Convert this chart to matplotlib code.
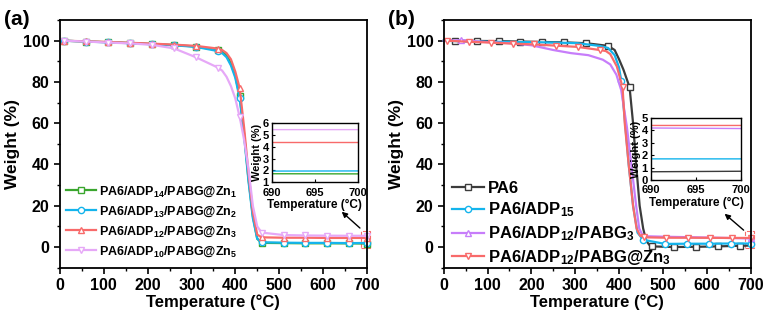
import numpy as np
import matplotlib
matplotlib.use('Agg')
import matplotlib.pyplot as plt
from matplotlib.patches import Rectangle
from matplotlib.ticker import MultipleLocator

plt.rcParams['font.family'] = ['Liberation Sans', 'DejaVu Sans']
plt.rcParams['font.weight'] = 'bold'
plt.rcParams['mathtext.fontset'] = 'custom'
plt.rcParams['mathtext.rm'] = 'Liberation Sans:bold'
plt.rcParams['mathtext.bf'] = 'Liberation Sans:bold'
plt.rcParams['mathtext.default'] = 'rm'

# ---- panel (a) data ----
T_a = [10, 60, 110, 160, 210, 260, 310, 360, 370, 380, 390, 400, 410, 420, 430, 440, 450, 460, 510, 560, 610, 660, 700]
zn1 = [100, 99.6, 99.3, 98.9, 98.4, 97.9, 97.2, 95.5, 94.8, 93, 89, 83, 73, 55, 33, 15, 4, 2.0, 1.9, 1.8, 1.8, 1.75, 1.7]
zn2 = [100, 99.6, 99.2, 98.8, 98.3, 97.8, 97.0, 95, 94, 92, 88, 82, 72, 54, 32, 14, 4, 2.3, 2.1, 2.0, 2.0, 1.9, 1.95]
zn3 = [100, 99.7, 99.4, 99.0, 98.6, 98.1, 97.5, 96.2, 95.5, 94, 91, 85, 77, 58, 36, 17, 6, 4.7, 4.5, 4.5, 4.4, 4.4, 4.4]
zn5 = [100, 99.6, 99.1, 98.7, 98, 96.3, 92, 87, 85.5, 82.5, 78, 72, 63, 52, 38, 20, 10, 7, 5.8, 5.6, 5.5, 5.45, 5.45]
marks_a = [10, 60, 110, 160, 210, 260, 310, 360, 410, 460, 510, 560, 610, 660, 700]
labels_a = ['PA6/ADP$_{14}$/PABG@Zn$_{1}$', 'PA6/ADP$_{13}$/PABG@Zn$_{2}$',
            'PA6/ADP$_{12}$/PABG@Zn$_{3}$', 'PA6/ADP$_{10}$/PABG@Zn$_{5}$']

# ---- panel (b) data ----
T_pa6 = [0, 25, 75, 125, 175, 225, 275, 325, 375, 390, 400, 410, 424, 432, 439, 447, 455, 462, 470, 475, 525, 575, 625, 675, 700]
pa6 = [100, 100, 99.9, 99.8, 99.6, 99.4, 99.2, 98.8, 97.5, 95.5, 91, 86, 77.5, 60, 40, 20, 9, 3, 0.8, 0.3, 0, 0.1, 0.3, 0.6, 0.7]
T_adp = [0, 55, 105, 155, 205, 255, 305, 355, 375, 390, 400, 405, 413, 422, 432, 442, 455, 505, 555, 605, 655, 700]
adp = [100, 99.6, 99.5, 99.4, 99.3, 99.1, 98.8, 97.5, 96.5, 93, 87, 80.7, 62, 40, 20, 7, 3.5, 1.5, 1.6, 1.6, 1.7, 1.7]
T_pabg = [0, 40, 100, 150, 200, 250, 290, 330, 363, 380, 394, 405, 418, 428, 439, 446, 453, 465, 500, 600, 700]
pabg = [100, 100.3, 99.3, 98.8, 97.8, 95.5, 94, 93, 90.8, 88.5, 83.5, 76, 58, 40, 20, 9, 6, 5.2, 5.0, 4.6, 4.15]
T_zn3b = [8, 58, 108, 158, 207, 257, 306, 356, 370, 380, 395, 408, 413, 422, 432, 440, 448, 458, 508, 558, 608, 658, 700]
zn3b = [100, 99.5, 99.1, 98.6, 98.2, 97.6, 97, 95.5, 95, 93.5, 87.5, 77.5, 60, 40, 20, 9, 5.5, 4.7, 4.5, 4.5, 4.45, 4.4, 4.4]
marks_pa6 = [25, 75, 125, 175, 225, 275, 325, 375, 424, 475, 525, 575, 625, 675]
marks_adp = [405, 455, 505, 555, 605, 655, 700]
marks_pabg = [40, 700]
marks_zn3b = [8, 58, 108, 158, 207, 257, 306, 356, 408, 458, 508, 558, 608, 658, 700]
labels_b = ['PA6', 'PA6/ADP$_{15}$', 'PA6/ADP$_{12}$/PABG$_{3}$', 'PA6/ADP$_{12}$/PABG@Zn$_{3}$']

green = '#3aa62e'
blue = '#14b4ec'
red = '#f86a6a'
pink = '#e6a8f7'
purple = '#c77dfa'
dark = '#3c3c3c'


def idx(T, marks):
    return [i for i, t in enumerate(T) if t in marks]


def style_main(ax):
    ax.set_xlim(0, 700)
    ax.set_ylim(-10, 110)
    ax.xaxis.set_major_locator(MultipleLocator(100))
    ax.xaxis.set_minor_locator(MultipleLocator(50))
    ax.yaxis.set_major_locator(MultipleLocator(20))
    ax.yaxis.set_minor_locator(MultipleLocator(10))
    ax.tick_params(which='major', direction='out', length=4, width=1.2, labelsize=11.5)
    ax.tick_params(which='minor', direction='out', length=2, width=1)
    for s in ax.spines.values():
        s.set_linewidth(1.3)
    ax.set_xlabel('Temperature (°C)', fontsize=12, fontweight='bold', labelpad=1)
    ax.set_ylabel('Weight (%)', fontsize=12.5, fontweight='bold', labelpad=2)


def style_inset(ax, ylo, yhi):
    ax.set_xlim(690, 700)
    ax.set_ylim(ylo, yhi)
    ax.xaxis.set_major_locator(MultipleLocator(5))
    ax.yaxis.set_major_locator(MultipleLocator(1))
    ax.tick_params(direction='in', length=2, width=0.8, labelsize=8)
    ax.tick_params(axis='y', pad=2.5)
    ax.tick_params(axis='x', pad=4)
    for s in ax.spines.values():
        s.set_linewidth(1)
    ax.set_xlabel('Temperature (°C)', fontsize=8.5, fontweight='bold', labelpad=1)
    ax.set_ylabel('Weight (%)', fontsize=8, fontweight='bold', labelpad=0.5)


fig = plt.figure(figsize=(7.69, 3.19), dpi=100)
arrow = dict(arrowstyle='-|>', color='black', lw=1, mutation_scale=8)

# ---------- (a) ----------
ax1 = fig.add_axes([0.078, 0.161, 0.399, 0.776])
series_a = [(zn1, green, 's'), (zn2, blue, 'o'), (zn3, red, '^'), (zn5, pink, 'v')]
for (w, c, m), lab in zip(series_a, labels_a):
    ax1.plot(T_a, w, color=c, lw=1.6, marker=m, ms=4.5, mfc='white', mec=c, mew=1,
             markevery=idx(T_a, marks_a), label=lab, clip_on=False)
style_main(ax1)
ax1.legend(loc='lower left', bbox_to_anchor=(-0.01, 0.0), frameon=False, fontsize=9,
           handlelength=2.4, handletextpad=0.3, labelspacing=0.45, borderpad=0.2)
ax1.add_patch(Rectangle((687, -0.5), 20, 8.5, fill=False, ec=red, ls='--', lw=0.8, clip_on=False))
ax1.annotate('', xy=(638, 18), xytext=(689, 8.3), arrowprops=arrow)
fig.text(0.005, 0.94, '(a)', fontsize=15, fontweight='bold', va='center')

ins1 = fig.add_axes([0.354, 0.429, 0.111, 0.185])
for w, c, m in series_a:
    ins1.plot(T_a, w, color=c, lw=1)
style_inset(ins1, 1, 6)

# ---------- (b) ----------
ax2 = fig.add_axes([0.577, 0.161, 0.399, 0.776])
series_b = [(T_pa6, pa6, dark, 's', marks_pa6), (T_adp, adp, blue, 'o', marks_adp),
            (T_pabg, pabg, purple, '^', marks_pabg), (T_zn3b, zn3b, red, 'v', marks_zn3b)]
for (T, w, c, m, mk), lab in zip(series_b, labels_b):
    ax2.plot(T, w, color=c, lw=1.6, marker=m, ms=4.5, mfc='white', mec=c, mew=1,
             markevery=idx(T, mk), label=lab, clip_on=False)
style_main(ax2)
ax2.legend(loc='lower left', bbox_to_anchor=(-0.01, -0.045), frameon=False, fontsize=12,
           handlelength=1.9, handletextpad=0.25, labelspacing=0.3, borderpad=0.2)
ax2.add_patch(Rectangle((687, -0.5), 20, 8.5, fill=False, ec=red, ls='--', lw=0.8, clip_on=False))
ax2.annotate('', xy=(636, 17), xytext=(689, 7.3), arrowprops=arrow)
fig.text(0.505, 0.94, '(b)', fontsize=15, fontweight='bold', va='center')

ins2 = fig.add_axes([0.847, 0.436, 0.117, 0.194])
for T, w, c, m, mk in series_b:
    ins2.plot(T, w, color=c, lw=1)
style_inset(ins2, 0, 5)

fig.savefig('out.png', dpi=100)
